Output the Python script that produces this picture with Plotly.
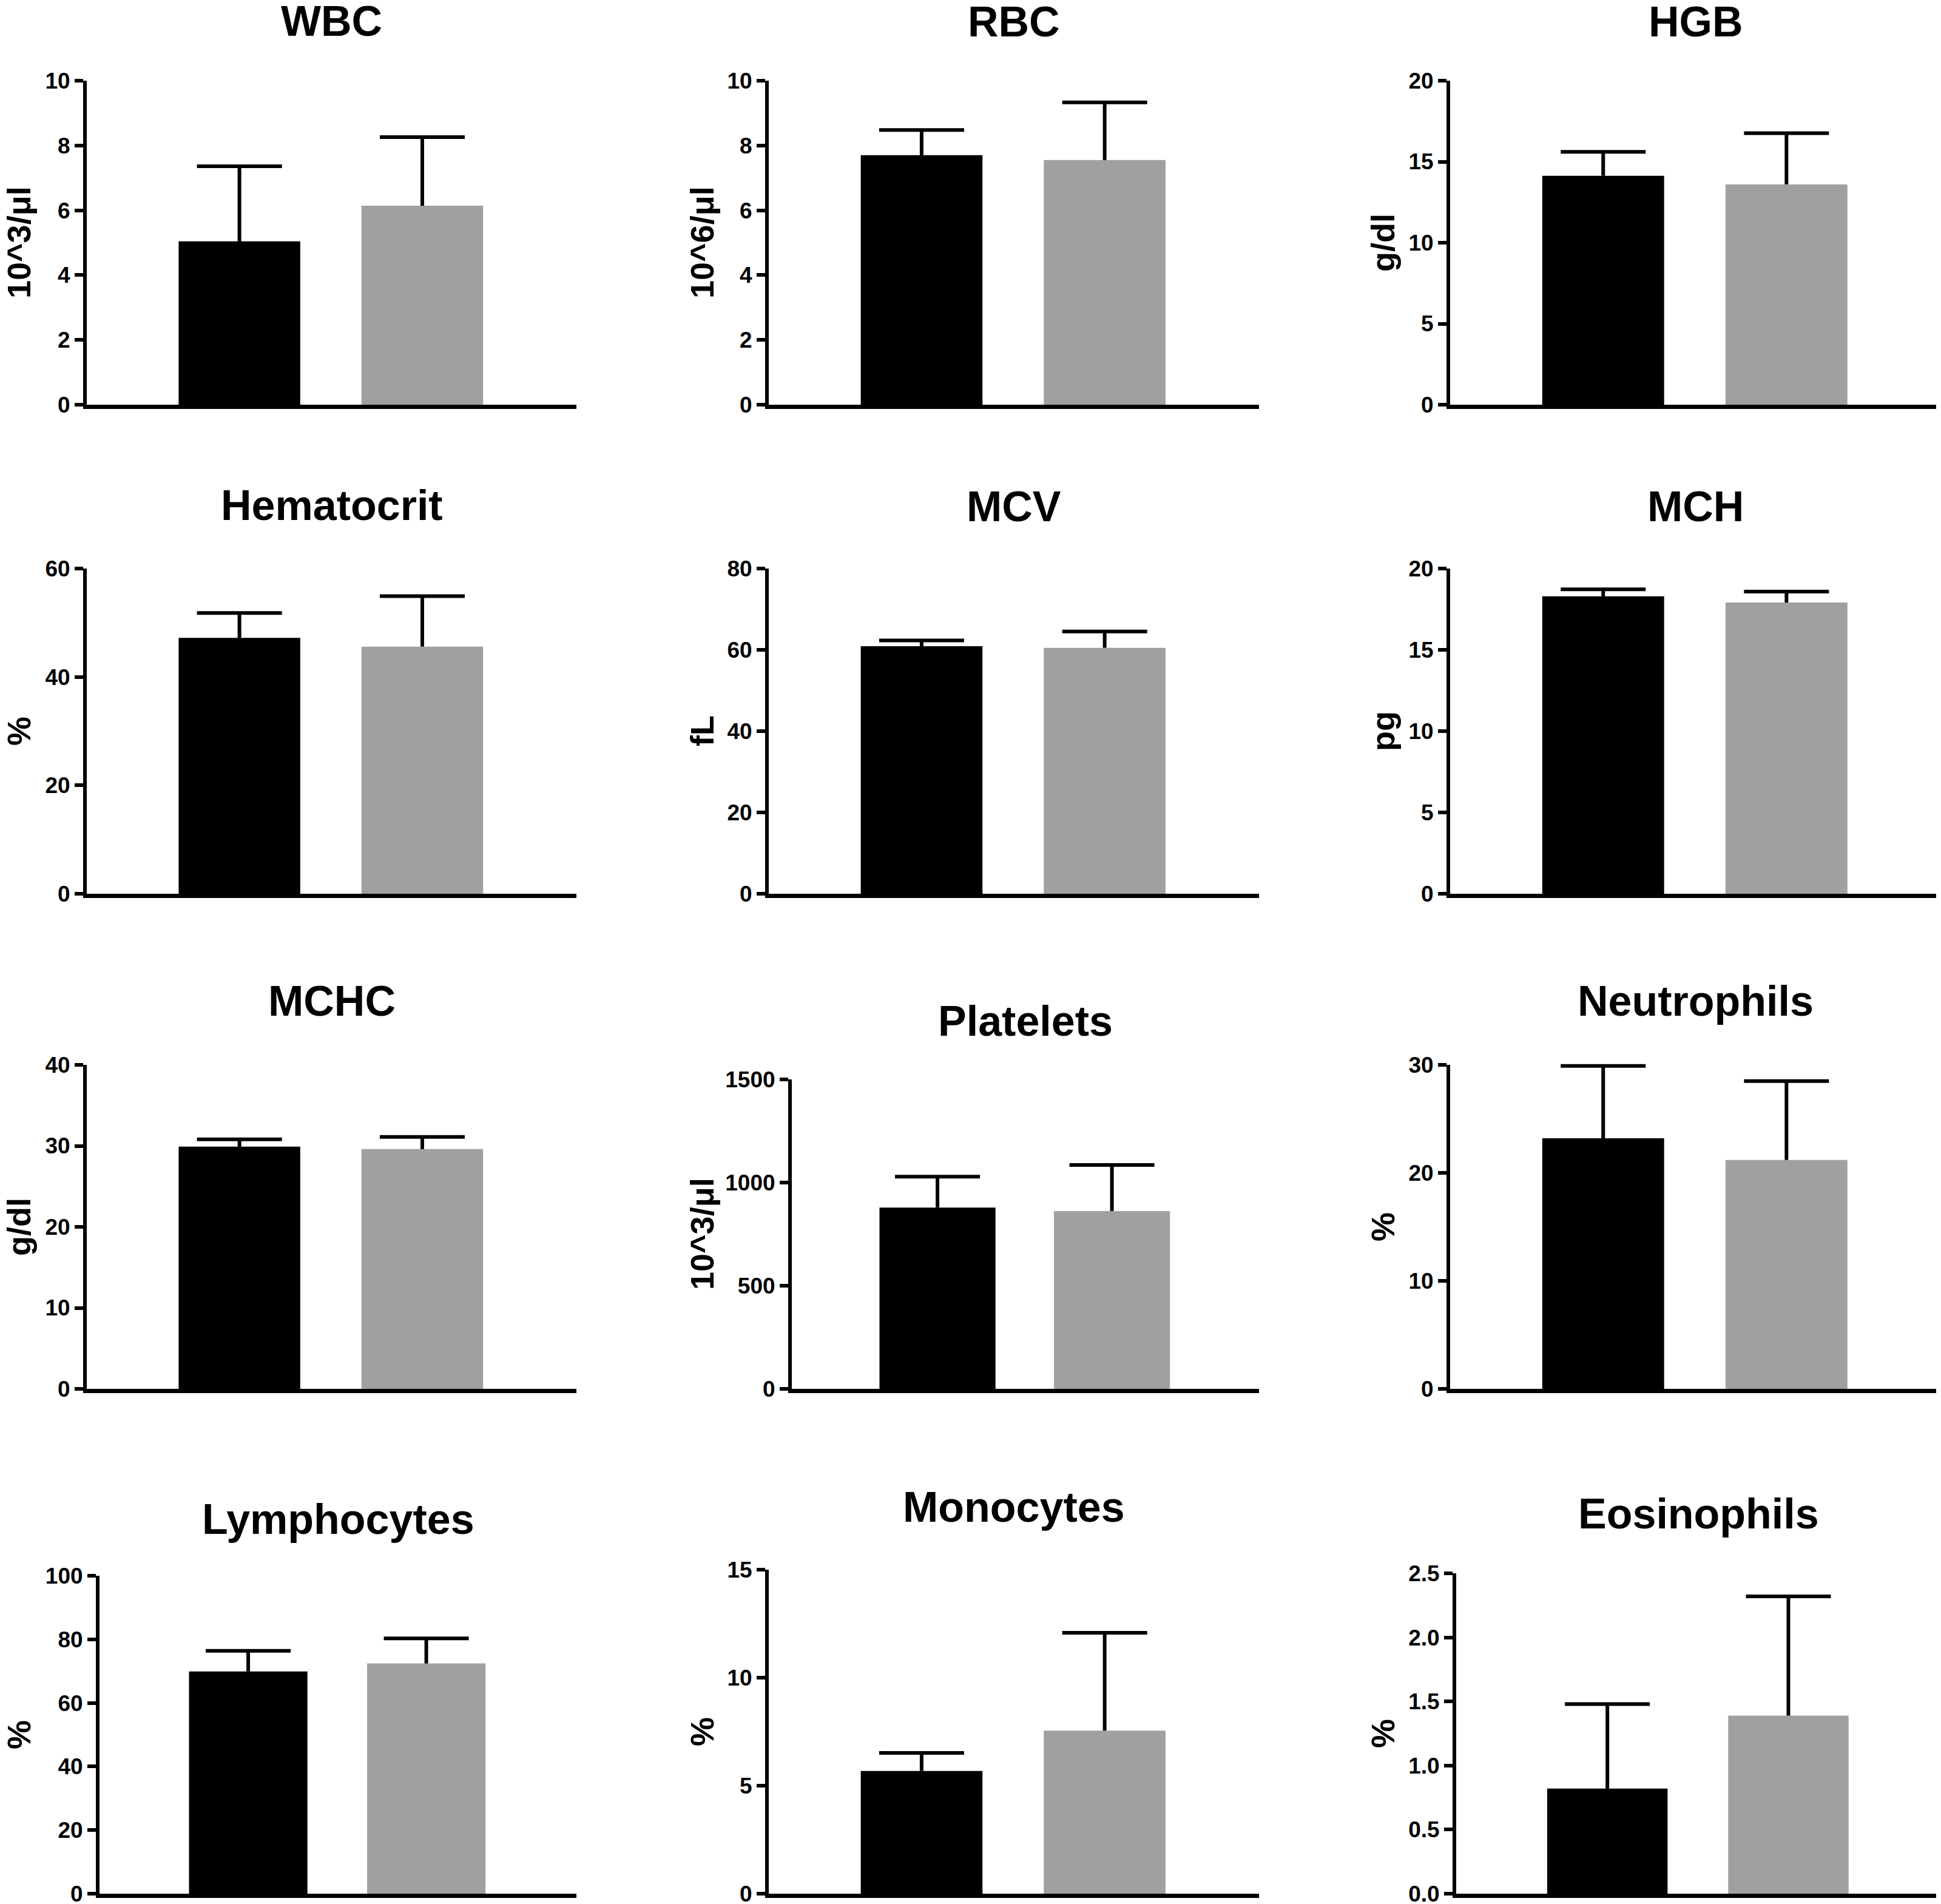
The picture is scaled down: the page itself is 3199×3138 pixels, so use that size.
import plotly.graph_objects as go

# Haematology panel: group A (black) vs group B (grey), mean + SD (upper error only)
names = ["WBC", "RBC", "HGB", "Hematocrit", "MCV", "MCH",
         "MCHC", "Platelets", "Neutrophils", "Lymphocytes", "Monocytes", "Eosinophils"]
units = ["10^3/μl", "10^6/μl", "g/dl", "%", "fL", "pg",
         "g/dl", "10^3/μl", "%", "%", "%", "%"]

group_a_mean = [5.04, 7.70, 14.13, 47.2, 60.9, 18.29, 29.9, 879, 23.2, 69.9, 5.68, 0.82]
group_a_sd = [2.32, 0.78, 1.48, 4.6, 1.4, 0.43, 0.9, 150, 6.7, 6.5, 0.84, 0.66]
group_b_mean = [6.14, 7.55, 13.60, 45.6, 60.5, 17.91, 29.6, 862, 21.2, 72.4, 7.55, 1.39]
group_b_sd = [2.12, 1.78, 3.16, 9.3, 4.0, 0.67, 1.5, 223, 7.3, 7.9, 4.53, 0.93]

y_max = [10, 10, 20, 60, 80, 20, 40, 1500, 30, 100, 15, 2.5]
y_step = [2, 2, 5, 20, 20, 5, 10, 500, 10, 20, 5, 0.5]
tick_fmt = ["d"] * 11 + [".1f"]

# panel placement in screen pixels; the page body adds an 8 px offset
OFF = 8
W, H = 3199 - OFF, 3138 - OFF
axis_left = [143, 1267, 2390, 143, 1267, 2390, 143, 1305, 2390, 164, 1267, 2400]
axis_right = [950, 2075, 3199]
axis_top = [133, 133, 133, 937, 937, 937, 1755, 1779, 1755, 2597, 2587, 2593]
axis_bottom = [667, 667, 667, 1473, 1473, 1473, 2289, 2289, 2289, 3121, 3121, 3121]
title_y = [35, 36, 36, 833, 835, 835, 1650, 1683, 1650, 2504, 2484, 2495]
ytitle_x = [31, 1157, 2279]


def px(v):
    return (v - OFF) / W


def py(v):
    return 1 - (v - OFF) / H


FONT = "Liberation Sans, Arial, sans-serif"

fig = go.Figure()
layout = {}
annotations = []

for i in range(12):
    n = "" if i == 0 else str(i + 1)
    col = i % 3
    left, right = axis_left[i], axis_right[col]
    top, bottom = axis_top[i], axis_bottom[i]

    # bars with the vertical part of the SD whisker
    fig.add_trace(go.Bar(
        x=[0, 1],
        y=[group_a_mean[i], group_b_mean[i]],
        width=0.665,
        marker=dict(color=["#000000", "#a0a0a0"], line=dict(width=0)),
        error_y=dict(type="data", symmetric=False,
                     array=[group_a_sd[i], group_b_sd[i]], arrayminus=[0, 0],
                     color="#000000", thickness=6, width=0),
        xaxis="x" + n, yaxis="y" + n,
        cliponaxis=False, showlegend=False
    ))
    # whisker caps (top only)
    fig.add_trace(go.Scatter(
        x=[0, 1],
        y=[group_a_mean[i] + group_a_sd[i], group_b_mean[i] + group_b_sd[i]],
        mode="markers",
        marker=dict(symbol="line-ew", size=100, color="black",
                    line=dict(width=6, color="black")),
        xaxis="x" + n, yaxis="y" + n,
        cliponaxis=False, showlegend=False, hoverinfo="skip"
    ))

    layout["xaxis" + n] = dict(
        domain=[px(left), min(px(right), 1)], range=[-0.835, 1.843], anchor="y" + n,
        showline=True, linecolor="black", linewidth=7,
        showticklabels=False, ticks="", showgrid=False, zeroline=False
    )
    layout["yaxis" + n] = dict(
        domain=[py(bottom), py(top)], range=[0, y_max[i]],
        tick0=0, dtick=y_step[i], tickformat=tick_fmt[i], anchor="x" + n,
        showline=True, linecolor="black", linewidth=6,
        ticks="outside", ticklen=14, tickwidth=6, tickcolor="black",
        tickfont=dict(family=FONT, size=37, color="black", weight="bold"),
        ticklabeloverflow="allow",
        showgrid=False, zeroline=False
    )

    # panel title
    annotations.append(dict(
        text=names[i], x=px((left + right) / 2), y=py(title_y[i]),
        xref="paper", yref="paper", xanchor="center", yanchor="middle",
        showarrow=False, font=dict(family=FONT, size=70, color="black", weight="bold")
    ))
    # y axis title
    annotations.append(dict(
        text=units[i], x=px(ytitle_x[col]), y=py((top + bottom) / 2),
        xref="paper", yref="paper", xanchor="center", yanchor="middle",
        textangle=-90, showarrow=False,
        font=dict(family=FONT, size=54, color="black", weight="bold")
    ))

fig.update_layout(
    **layout,
    annotations=annotations,
    width=W, height=H,
    margin=dict(l=0, r=0, t=0, b=0, autoexpand=False),
    plot_bgcolor="white", paper_bgcolor="white",
    showlegend=False,
    font=dict(family=FONT, color="black")
)

fig.write_html("out.html")
